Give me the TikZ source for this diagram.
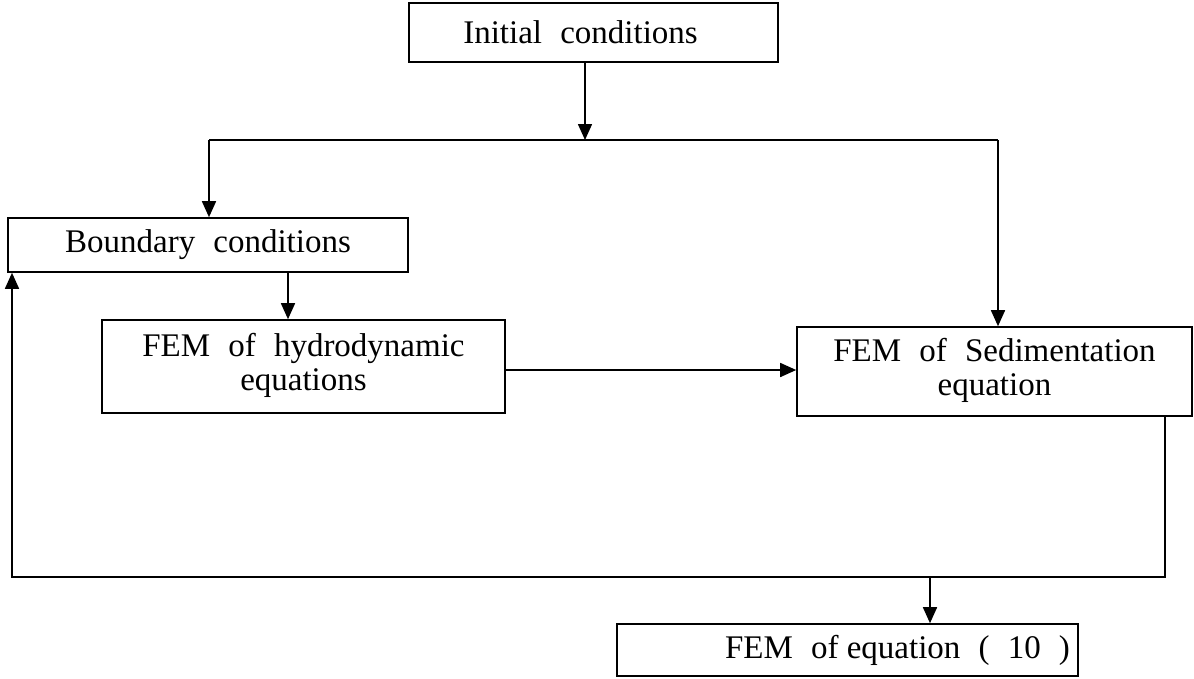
\documentclass[tikz,border=0pt]{standalone}
\usepackage{fontspec}
\setmainfont{Liberation Serif}
\usetikzlibrary{arrows.meta}
\newcommand{\gap}{\hspace{0.55em}}
\newcommand{\twoline}[2]{\raisebox{-4pt}{\begin{tabular}{@{}c@{}}#1\\[-3pt]#2\end{tabular}}}
\begin{document}
\begin{tikzpicture}[x=1pt,y=-1pt,
  box/.style={draw, line width=1.6pt, inner sep=0pt, align=center,
    font=\fontsize{33}{37}\selectfont},
  line/.style={line width=1.6pt},
  arr/.style={line width=1.6pt, -{Triangle[length=16pt,width=14pt]}}]
\useasboundingbox (0,0) rectangle (1194,678);
\node[box, minimum width=369pt, minimum height=59pt] (init) at (593.5,32.5) {Initial\gap conditions\hspace*{26pt}};
\node[box, minimum width=400pt, minimum height=54pt] (bnd) at (208,245) {\raisebox{-3pt}{Boundary\gap conditions}};
\node[box, minimum width=403pt, minimum height=93pt] (hyd) at (303.5,366.5) {\twoline{FEM\gap of\gap hydrodynamic}{equations}};
\node[box, minimum width=395pt, minimum height=89pt] (sed) at (994.5,371.5) {\twoline{FEM\gap of\gap Sedimentation}{equation}};
\node[box, minimum width=461pt, minimum height=52pt] (eq) at (847.5,650) {\hspace*{100pt}FEM\gap of equation\gap (\gap 10\gap )};
\coordinate (j) at (585,140);
\coordinate (jl) at (209,140);
\coordinate (jr) at (998,140);
\coordinate (b2) at (288,0);
\coordinate (h2) at (0,370);
\coordinate (fr) at (1165,577);
\coordinate (fl) at (12,577);
\coordinate (fe) at (930,577);
\draw[arr] (init.south -| j) -- (j);
\draw[line] (jl) -- (jr);
\draw[arr] (jl) -- (jl |- bnd.north);
\draw[arr] (jr) -- (jr |- sed.north);
\draw[arr] (bnd.south -| b2) -- (hyd.north -| b2);
\draw[arr] (hyd.east |- h2) -- (sed.west |- h2);
\draw[arr] (sed.south -| fr) -- (fr) -- (fl) -- (fl |- bnd.south);
\draw[arr] (fe) -- (eq.north -| fe);
\end{tikzpicture}
\end{document}
